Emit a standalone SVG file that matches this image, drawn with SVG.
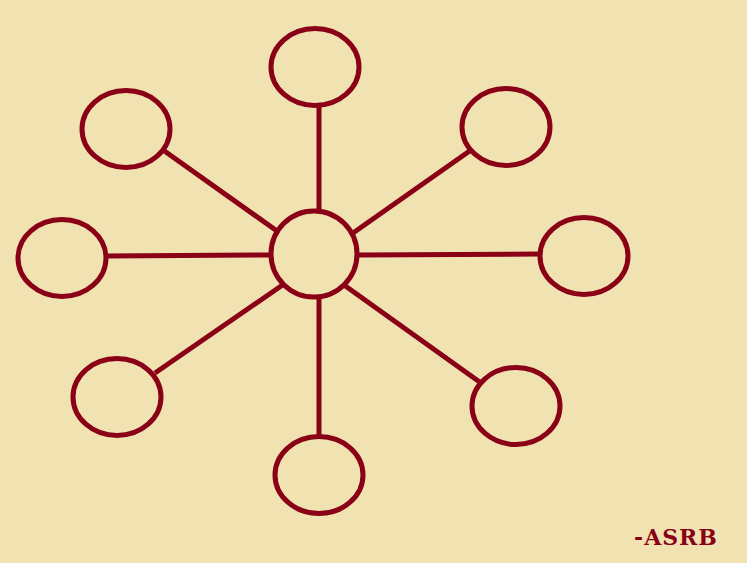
<svg xmlns="http://www.w3.org/2000/svg" width="747" height="563" viewBox="0 0 747 563">
<style>
.n{fill:none;stroke:#8a0016;stroke-width:5}
.c line{stroke:#8a0016;stroke-width:5}
.t{font-family:"DejaVu Serif",serif;font-weight:bold;font-size:22px;fill:#8a0016;letter-spacing:1px}
</style>
<rect width="747" height="563" fill="#f0e3b1"/>
<g id="connectors" class="c">
<line x1="319" y1="106" x2="319" y2="212"/>
<line x1="163" y1="150" x2="277" y2="231"/>
<line x1="471" y1="150" x2="353" y2="233"/>
<line x1="105" y1="256" x2="270" y2="255"/>
<line x1="541" y1="254" x2="358" y2="255"/>
<line x1="155" y1="373" x2="284" y2="284"/>
<line x1="481" y1="383" x2="344" y2="285"/>
<line x1="319" y1="297" x2="319" y2="438"/>
</g>
<g id="center"><ellipse class="n" cx="314" cy="254" rx="43" ry="43"/></g>
<g id="n-top"><ellipse class="n" cx="315" cy="67" rx="44" ry="38.5"/></g>
<g id="n-topleft"><ellipse class="n" cx="126" cy="129" rx="44" ry="38.5"/></g>
<g id="n-topright"><ellipse class="n" cx="506" cy="127" rx="44" ry="38.5"/></g>
<g id="n-left"><ellipse class="n" cx="62" cy="258" rx="44" ry="38.5"/></g>
<g id="n-right"><ellipse class="n" cx="584" cy="256" rx="44" ry="38.5"/></g>
<g id="n-bottomleft"><ellipse class="n" cx="117" cy="397" rx="44" ry="38.5"/></g>
<g id="n-bottomright"><ellipse class="n" cx="516" cy="406" rx="44" ry="38.5"/></g>
<g id="n-bottom"><ellipse class="n" cx="319" cy="475" rx="44" ry="38.5"/></g>
<text class="t" x="634" y="545">-ASRB</text>
</svg>
